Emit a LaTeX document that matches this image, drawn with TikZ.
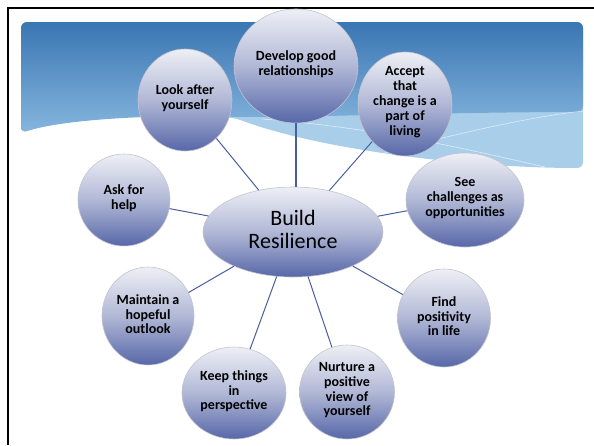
\documentclass[tikz,border=0pt]{standalone}
\usepackage{fontspec}
\setmainfont{Carlito}
\usetikzlibrary{shapes.geometric}
\definecolor{bubtop}{HTML}{EEEFF5}
\definecolor{bubmid}{HTML}{B1B8D6}
\definecolor{bubbot}{HTML}{5767A8}
\definecolor{bubedge}{HTML}{C2C3CE}
\definecolor{linkcol}{HTML}{4A5E9E}
\definecolor{bantop}{HTML}{3A76B3}
\definecolor{banbot}{HTML}{86B6DE}
\definecolor{bandcol}{HTML}{A9CEEA}
\newcommand\btxt[1]{\makebox[0pt]{\parbox[c][0pt][c]{130pt}{\centering #1}}}
\begin{document}
\begin{tikzpicture}[x=1pt,y=-1pt,
  bubble/.style={ellipse, draw=bubedge, line width=0.6pt, top color=bubtop, bottom color=bubbot, middle color=bubmid, inner sep=0pt, text=black, font=\bfseries\fontsize{14}{14.8}\selectfont},
  link/.style={draw=linkcol, line width=1pt}]
\useasboundingbox (0,0) rectangle (594,445);
% frame
\draw[line width=2.6pt] (8,445) -- (8,8) -- (594,8);
% banner
\fill[bandcol, rounded corners=6pt] (21,133) -- (21,22) -- (583,22) -- (583,168) .. controls (470,168) and (320,150) .. (235,118) .. controls (150,112) and (60,120) .. (21,133) -- cycle;
\shade[top color=bantop, bottom color=banbot, rounded corners=6pt] (21,133) -- (21,22) -- (583,22) -- (583,112) .. controls (460,112) and (320,117) .. (240,117) .. controls (150,114) and (60,120) .. (21,133) -- cycle;
\draw[white, opacity=0.6, line width=0.6pt] (262,119) .. controls (380,128) and (470,150) .. (545,167);
\draw[white, opacity=0.6, line width=0.6pt] (367,158) .. controls (430,140) and (520,118) .. (583,111);
% nodes
\node[bubble, minimum width=124, minimum height=114] (dev) at (296,66) {\btxt{Develop good\\relationships}};
\node[bubble, minimum width=94, minimum height=102] (look) at (185,100) {\btxt{Look after\\yourself}};
\node[bubble, minimum width=94, minimum height=104] (acc) at (405,104) {\btxt{Accept\\that\\change is a\\part of\\living}};
\node[bubble, minimum width=92, minimum height=92] (ask) at (124,200) {\btxt{Ask for\\help}};
\node[bubble, minimum width=118, minimum height=94] (see) at (465,200) {\btxt{See\\challenges as\\opportunities}};
\node[ellipse, draw=bubedge, line width=0.6pt, top color=bubtop, bottom color=bubbot, middle color=bubmid, inner sep=0pt, minimum width=180, minimum height=90, font=\fontsize{22}{23.5}\selectfont] (build) at (293,232) {\btxt{Build\\Resilience}};
\node[bubble, minimum width=92, minimum height=98] (maint) at (148,316) {\btxt{Maintain a\\hopeful\\outlook}};
\node[bubble, minimum width=93, minimum height=98] (find) at (444,318) {\btxt{Find\\positivity\\in life}};
\node[bubble, minimum width=104, minimum height=92] (keep) at (234,393) {\btxt{Keep things\\in\\perspective}};
\node[bubble, minimum width=95, minimum height=94] (nurt) at (347,392) {\btxt{Nurture a\\positive\\view of\\yourself}};
% links
\draw[link, line width=1.8pt] (dev.south) -- (dev.south |- build.north);
\draw[link] (build) -- (look);
\draw[link] (build) -- (acc);
\draw[link] (build) -- (ask);
\draw[link] (build) -- (see);
\draw[link] (build) -- (maint);
\draw[link] (build) -- (find);
\draw[link] (build) -- (keep);
\draw[link] (build) -- (nurt);
\end{tikzpicture}
\end{document}
